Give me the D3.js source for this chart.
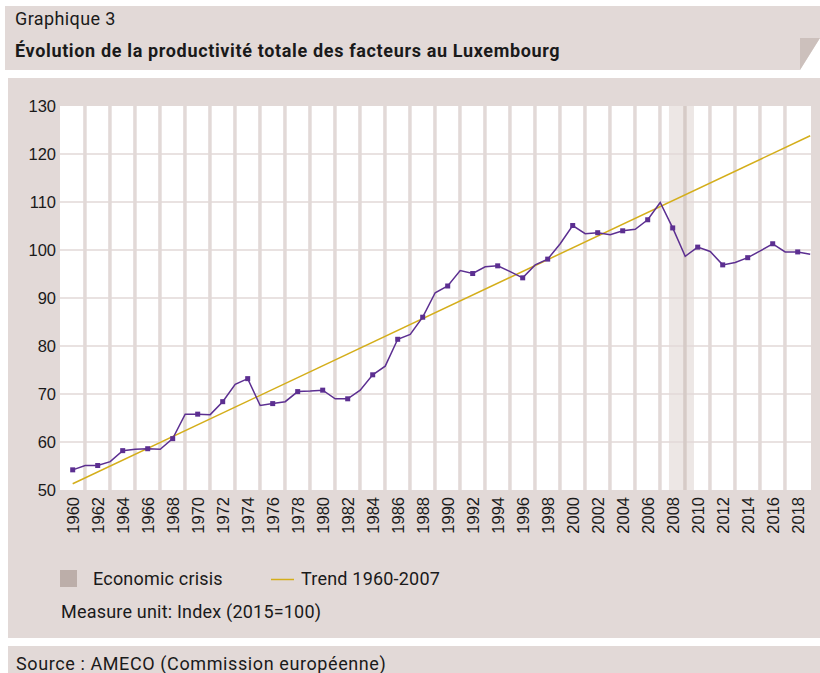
<!DOCTYPE html>
<html lang="fr">
<head>
<meta charset="utf-8">
<title>Graphique 3</title>
<script src="https://cdn.jsdelivr.net/npm/d3@7/dist/d3.min.js"></script>
<style>
body { margin: 0; background: #fff; }
svg text { font-family: Roboto, "Liberation Sans", sans-serif; fill: #1a1a1a; }
.axis text { font-family: "Liberation Sans", Arial, sans-serif; }
</style>
</head>
<body>
<div id="chart"></div>
<script>
// years and total factor productivity index (2015=100)
var years = [1960,1961,1962,1963,1964,1965,1966,1967,1968,1969,
             1970,1971,1972,1973,1974,1975,1976,1977,1978,1979,
             1980,1981,1982,1983,1984,1985,1986,1987,1988,1989,
             1990,1991,1992,1993,1994,1995,1996,1997,1998,1999,
             2000,2001,2002,2003,2004,2005,2006,2007,2008,2009,
             2010,2011,2012,2013,2014,2015,2016,2017,2018,2019];
var tfp = [54.2,55.1,55.1,55.9,58.2,58.5,58.6,58.5,60.7,65.8,
           65.8,65.7,68.4,72.0,73.2,67.6,68.0,68.4,70.5,70.6,
           70.8,69.0,69.0,70.8,74.0,75.8,81.4,82.4,86.0,91.1,
           92.5,95.7,95.1,96.5,96.7,95.5,94.2,96.9,98.1,101.3,
           105.1,103.4,103.6,103.2,104.0,104.3,106.3,109.9,104.6,98.7,
           100.6,99.7,96.9,97.4,98.4,99.8,101.3,99.6,99.6,99.1];
// trend 1960-2007, drawn as a straight line across the chart
var trendYears = [1960, 2019];
var trendValues = [51.3, 123.8];
// economic crisis shading (in years)
var crisisRange = [2007.7, 2009.7];
var yTicks = [50,60,70,80,90,100,110,120,130];

var W = 820, H = 673;
var svg = d3.select('#chart').append('svg')
  .attr('width', W).attr('height', H);

var panel = '#e2d9d7';

// header panel with folded corner
svg.append('path')
  .attr('d', 'M5,6 L820,6 L820,38 L800,70 L5,70 Z')
  .style('fill', panel);
svg.append('path')
  .attr('d', 'M800,38 L820,38 L800,70 Z')
  .style('fill', '#ccc0bc');
svg.append('text').attr('x', 15).attr('y', 25)
  .style('font-size', '18px').style('letter-spacing', '0.4px').text('Graphique 3');
svg.append('text').attr('x', 15).attr('y', 57)
  .style('font-size', '18px').style('font-weight', 'bold').style('letter-spacing', '0.65px')
  .text('Évolution de la productivité totale des facteurs au Luxembourg');

// chart panel + source panel
svg.append('rect').attr('x', 8).attr('y', 78).attr('width', 812).attr('height', 560)
  .style('fill', panel);
svg.append('rect').attr('x', 8).attr('y', 646).attr('width', 812).attr('height', 27)
  .style('fill', panel);
svg.append('text').attr('x', 16).attr('y', 670)
  .style('font-size', '18px').style('letter-spacing', '0.6px')
  .text('Source : AMECO (Commission européenne)');

var plot = { left: 60, right: 811, top: 106, bottom: 490 };
var x = d3.scaleLinear().domain([1960, 2019]).range([72.7, 810.2]);
var y = d3.scaleLinear().domain([50, 130]).range([plot.bottom, plot.top]);

var g = svg.append('g');
g.append('rect')
  .attr('x', plot.left).attr('y', plot.top)
  .attr('width', plot.right - plot.left).attr('height', plot.bottom - plot.top)
  .style('fill', '#fff');

// crisis band
g.append('rect')
  .attr('x', x(crisisRange[0])).attr('y', plot.top)
  .attr('width', x(crisisRange[1]) - x(crisisRange[0]))
  .attr('height', plot.bottom - plot.top)
  .style('fill', '#ede7e5');

// horizontal grid
g.selectAll('.hgrid').data(yTicks.slice(1, -1)).enter().append('line')
  .attr('x1', plot.left).attr('x2', plot.right)
  .attr('y1', function(d) { return y(d); }).attr('y2', function(d) { return y(d); })
  .style('stroke', '#e2d9d7').style('stroke-width', 1.5);

// vertical bars at odd years
var oddYears = years.filter(function(d) { return d % 2 === 1 && d < 2019; });
g.selectAll('.vgrid').data(oddYears).enter().append('rect')
  .attr('x', function(d) { return x(d) - 2; })
  .attr('y', plot.top).attr('width', 3.5).attr('height', plot.bottom - plot.top)
  .style('fill', function(d) {
    return (d > crisisRange[0] && d < crisisRange[1]) ? '#d6cbc7' : '#e2d9d7';
  });

// trend
g.append('line')
  .attr('x1', x(trendYears[0])).attr('y1', y(trendValues[0]))
  .attr('x2', x(trendYears[1])).attr('y2', y(trendValues[1]))
  .style('stroke', '#d4ae1a').style('stroke-width', 1.5);

// TFP line
var pts = years.map(function(d, i) { return [d, tfp[i]]; });
g.append('path').datum(pts)
  .attr('d', d3.line().x(function(d) { return x(d[0]); }).y(function(d) { return y(d[1]); }))
  .style('fill', 'none').style('stroke', '#5c2f91').style('stroke-width', 1.5);
g.selectAll('.mk').data(pts.filter(function(d) { return d[0] % 2 === 0; })).enter().append('rect')
  .attr('x', function(d) { return x(d[0]) - 2.5; })
  .attr('y', function(d) { return y(d[1]) - 2.5; })
  .attr('width', 5).attr('height', 5)
  .style('fill', '#5c2f91');

// y axis labels
var yAxis = svg.append('g').attr('class', 'axis')
  .attr('transform', 'translate(' + plot.left + ',0)')
  .call(d3.axisLeft(y).tickValues(yTicks).tickSize(0).tickPadding(4));
yAxis.select('.domain').remove();
yAxis.selectAll('text').style('font-size', '16.5px').style('fill', '#1a1a1a');

// x axis labels (rotated)
var evenYears = years.filter(function(d) { return d % 2 === 0; });
var xAxis = svg.append('g').attr('class', 'axis')
  .attr('transform', 'translate(0,' + plot.bottom + ')')
  .call(d3.axisBottom(x).tickValues(evenYears).tickFormat(d3.format('d')).tickSize(0));
xAxis.select('.domain').remove();
xAxis.selectAll('text')
  .style('font-size', '16.5px').style('fill', '#1a1a1a')
  .attr('text-anchor', 'end')
  .attr('transform', 'rotate(-90)')
  .attr('x', -7).attr('y', 0).attr('dy', '0.35em');

// legend
svg.append('rect').attr('x', 60).attr('y', 570).attr('width', 17).attr('height', 17)
  .style('fill', '#bcaea9');
svg.append('text').attr('x', 93).attr('y', 585)
  .style('font-size', '18px').style('letter-spacing', '0.2px').text('Economic crisis');
svg.append('line').attr('x1', 271).attr('x2', 294).attr('y1', 579.5).attr('y2', 579.5)
  .style('stroke', '#d4ae1a').style('stroke-width', 1.5);
svg.append('text').attr('x', 301).attr('y', 585)
  .style('font-size', '18px').style('letter-spacing', '0.2px').text('Trend 1960-2007');
svg.append('text').attr('x', 61).attr('y', 618)
  .style('font-size', '18px').style('letter-spacing', '0.2px').text('Measure unit: Index (2015=100)');
</script>
</body>
</html>
